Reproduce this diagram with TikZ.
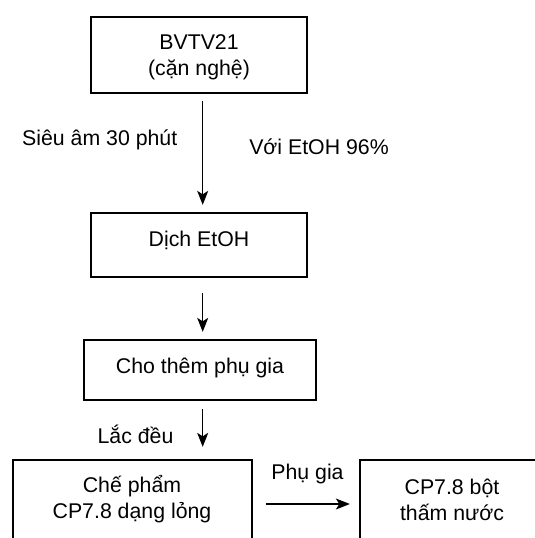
\documentclass[tikz,border=0pt]{standalone}
\usepackage{fontspec}
\setmainfont{Liberation Sans}
\usetikzlibrary{arrows.meta}
\begin{document}
\begin{tikzpicture}[x=1pt,y=-1pt,
  box/.style={draw=black, line width=2.3pt, rectangle, inner sep=0pt},
  txt/.style={align=center, inner sep=0pt, font=\fontsize{21.3}{26}\selectfont},
  arr/.style={draw=black, line width=1.2pt, -{Stealth[length=14pt,width=11pt,inset=3.5pt]}}
]
\useasboundingbox (0,0) rectangle (535,538);
\clip (0,0) rectangle (535,538);
% boxes
\node[box, minimum width=216pt, minimum height=76pt] (b1) at (199,55) {};
\node[txt] (t1) at (199,57) {BVTV21\\(cặn nghệ)};
\node[box, minimum width=216pt, minimum height=64pt] (b2) at (199,245) {};
\node[txt] (t2) at (199,240) {Dịch EtOH};
\node[box, minimum width=232pt, minimum height=60pt] (b3) at (200,370) {};
\node[txt] (t3) at (200,368) {Cho thêm phụ gia};
\node[box, minimum width=239pt, minimum height=100pt] (b4) at (132.5,510) {};
\node[txt] (t4) at (132,499) {Chế phẩm\\CP7.8 dạng lỏng};
\node[box, minimum width=200pt, minimum height=100pt] (b5) at (460,510) {};
\node[txt] (t5) at (452,500) {CP7.8 bột\\thấm nước};
% labels
\node[txt] (l1) at (99.7,140) {Siêu âm 30 phút};
\node[txt] (l2) at (319,147) {Với EtOH 96\%};
\node[txt] (l3) at (135.5,434) {Lắc đều};
\node[txt] (l4) at (307.5,474) {Phụ gia};
% connectors
\draw[arr, shorten <=7pt, shorten >=7pt] ([xshift=3.7pt]b1.south) -- ([xshift=3.7pt]b1.south |- b2.north);
\draw[arr, shorten <=15pt, shorten >=7pt] ([xshift=3.7pt]b2.south) -- ([xshift=3.7pt]b2.south |- b3.north);
\draw[arr, shorten <=8pt, shorten >=12pt] ([xshift=2.7pt]b3.south) -- ([xshift=2.7pt]b3.south |- b4.north);
\draw[arr, shorten <=13pt, shorten >=9pt] ([yshift=6pt]b4.east) -- ([yshift=6pt]b4.east -| b5.west);
\end{tikzpicture}
\end{document}
